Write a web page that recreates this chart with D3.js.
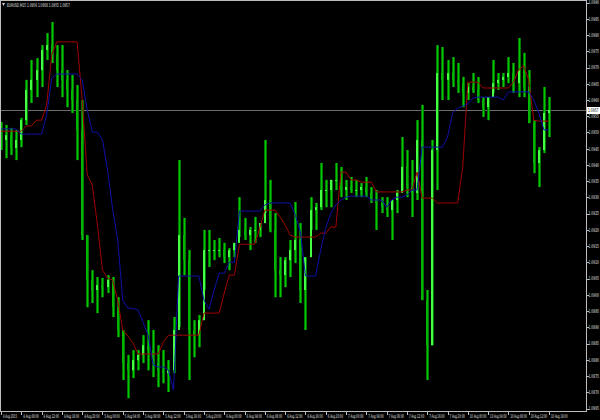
<!DOCTYPE html>
<html>
<head>
<meta charset="utf-8">
<script src="https://cdn.jsdelivr.net/npm/d3@7"></script>
<style>
body { margin: 0; background: #000; }
svg { display: block; }
</style>
</head>
<body>
<svg width="600" height="420"></svg>
<script>
// hourly bars, EURUSD, from 4 Aug 04:00
var highs = [1.09532,1.09523,1.09514,1.09508,1.09545,1.09662,1.09723,1.09729,1.09769,1.09806,
    1.09840,1.09769,1.09769,1.09692,1.09677,1.09646,1.09600,1.09184,1.09076,1.09055,
    1.09052,1.09061,1.09055,1.08993,1.08892,1.08815,1.08830,1.08830,1.08876,1.08922,
    1.08892,1.08845,1.08830,1.08799,1.08932,1.09415,1.09237,1.09138,1.08922,1.08938,
    1.09200,1.09200,1.09169,1.09175,1.09160,1.09144,1.09160,1.09301,1.09237,1.09209,
    1.09240,1.09221,1.09477,1.09354,1.09252,1.09116,1.09116,1.09169,1.09286,1.09221,
    1.09116,1.09301,1.09283,1.09406,1.09354,1.09354,1.09406,1.09394,1.09354,1.09363,
    1.09354,1.09344,1.09363,1.09332,1.09323,1.09301,1.09301,1.09292,1.09323,1.09486,
    1.09446,1.09415,1.09538,1.09585,1.09015,1.09477,1.09769,1.09763,1.09723,1.09732,
    1.09714,1.09671,1.09652,1.09683,1.09671,1.09609,1.09609,1.09723,1.09683,1.09683,
    1.09732,1.09714,1.09791,1.09745,1.09692,1.09538,1.09455,1.09640,1.09609];
var lows = [1.09446,1.09421,1.09431,1.09415,1.09455,1.09523,1.09591,1.09609,1.09640,1.09723,
    1.09714,1.09640,1.09609,1.09578,1.09560,1.09415,1.09169,1.08962,1.08975,1.08944,
    1.08993,1.09006,1.08932,1.08870,1.08738,1.08682,1.08744,1.08768,1.08790,1.08768,
    1.08747,1.08716,1.08728,1.08701,1.08759,1.08901,1.09061,1.08738,1.08808,1.08839,
    1.09015,1.09086,1.09107,1.09116,1.09098,1.09076,1.09116,1.09178,1.09169,1.09138,
    1.09160,1.09178,1.09252,1.09193,1.08993,1.08993,1.09024,1.09055,1.09098,1.08975,
    1.08892,1.09200,1.09200,1.09261,1.09270,1.09270,1.09323,1.09301,1.09292,1.09314,
    1.09301,1.09301,1.09301,1.09283,1.09200,1.09252,1.09240,1.09169,1.09252,1.09323,
    1.09301,1.09240,1.09292,1.08984,1.08738,1.08845,1.09323,1.09600,1.09600,1.09640,
    1.09622,1.09578,1.09600,1.09622,1.09591,1.09548,1.09538,1.09622,1.09631,1.09640,
    1.09652,1.09622,1.09609,1.09609,1.09529,1.09375,1.09332,1.09437,1.09486];
var closes = [1.09477,1.09492,1.09452,1.09477,1.09538,1.09631,1.09662,1.09692,1.09754,1.09769,
    1.09739,1.09692,1.09662,1.09631,1.09600,1.09508,1.09184,1.09046,1.09015,1.09030,
    1.09024,1.09046,1.08962,1.08892,1.08790,1.08768,1.08799,1.08815,1.08845,1.08830,
    1.08790,1.08768,1.08759,1.08768,1.08892,1.09184,1.09107,1.08892,1.08876,1.08922,
    1.09138,1.09138,1.09138,1.09138,1.09116,1.09138,1.09160,1.09200,1.09184,1.09200,
    1.09200,1.09221,1.09292,1.09200,1.09076,1.09061,1.09107,1.09138,1.09169,1.09015,
    1.09116,1.09261,1.09270,1.09323,1.09323,1.09354,1.09354,1.09323,1.09332,1.09323,
    1.09323,1.09332,1.09314,1.09292,1.09283,1.09270,1.09261,1.09292,1.09314,1.09394,
    1.09332,1.09314,1.09477,1.08984,1.08845,1.09446,1.09683,1.09662,1.09683,1.09662,
    1.09652,1.09622,1.09640,1.09631,1.09600,1.09578,1.09609,1.09652,1.09662,1.09671,
    1.09683,1.09652,1.09692,1.09640,1.09529,1.09406,1.09446,1.09560,1.09569];
var firstOpen = 1.09500;

// indicator lines (red and blue)
var redLine = [1.09504,1.09504,1.09504,1.09504,1.09504,1.09520,1.09520,1.09538,1.09538,1.09585,
    1.09739,1.09779,1.09779,1.09779,1.09779,1.09779,1.09600,1.09369,1.09338,1.09215,
    1.09076,1.09052,1.09046,1.08984,1.08892,1.08873,1.08852,1.08818,1.08818,1.08818,
    1.08818,1.08818,1.08855,1.08876,1.08876,1.08876,1.08876,1.08876,1.08876,1.08876,
    1.08944,1.08944,1.08944,1.08944,1.09006,1.09061,1.09061,1.09156,1.09156,1.09156,
    1.09156,1.09206,1.09261,1.09261,1.09261,1.09240,1.09215,1.09184,1.09178,1.09178,
    1.09178,1.09178,1.09178,1.09190,1.09190,1.09209,1.09209,1.09378,1.09378,1.09354,
    1.09354,1.09347,1.09347,1.09347,1.09317,1.09317,1.09317,1.09317,1.09317,1.09317,
    1.09323,1.09323,1.09378,1.09298,1.09298,1.09298,1.09283,1.09283,1.09283,1.09283,
    1.09283,1.09394,1.09655,1.09655,1.09655,1.09637,1.09637,1.09637,1.09637,1.09637,
    1.09637,1.09655,1.09692,1.09705,1.09662,1.09538,1.09535,1.09535,1.09535];
var blueLine = [1.09511,1.09511,1.09511,1.09511,1.09495,1.09495,1.09495,1.09495,1.09495,1.09554,
    1.09668,1.09680,1.09680,1.09680,1.09680,1.09680,1.09662,1.09569,1.09501,1.09501,
    1.09477,1.09384,1.09264,1.09169,1.08984,1.08959,1.08959,1.08953,1.08916,1.08876,
    1.08784,1.08778,1.08778,1.08768,1.08707,1.09058,1.09058,1.09058,1.09058,1.09058,
    1.08984,1.08956,1.09015,1.09067,1.09067,1.09101,1.09101,1.09258,1.09258,1.09258,
    1.09258,1.09258,1.09277,1.09283,1.09283,1.09283,1.09283,1.09283,1.09246,1.09194,
    1.09058,1.09058,1.09058,1.09138,1.09206,1.09252,1.09277,1.09292,1.09301,1.09304,
    1.09304,1.09304,1.09304,1.09292,1.09292,1.09292,1.09270,1.09292,1.09301,1.09301,
    1.09307,1.09323,1.09323,1.09455,1.09455,1.09455,1.09455,1.09455,1.09486,1.09560,
    1.09575,1.09581,1.09588,1.09606,1.09609,1.09609,1.09609,1.09609,1.09609,1.09600,
    1.09625,1.09625,1.09625,1.09625,1.09625,1.09600,1.09560,1.09508,1.09508];

// axis labels
var timeLabels = ["4 Aug 2015","4 Aug 08:00","4 Aug 12:00","4 Aug 16:00","4 Aug 20:00",
    "5 Aug 00:00","5 Aug 04:00","5 Aug 08:00","5 Aug 12:00","5 Aug 16:00","5 Aug 20:00",
    "6 Aug 00:00","6 Aug 04:00","6 Aug 08:00","6 Aug 12:00","6 Aug 16:00","6 Aug 20:00",
    "7 Aug 00:00","7 Aug 04:00","7 Aug 08:00","7 Aug 12:00","7 Aug 16:00","7 Aug 20:00",
    "10 Aug 00:00","10 Aug 04:00","10 Aug 08:00","10 Aug 12:00","10 Aug 16:00"];
var barsPerLabel = 4;
var priceTicks = ["1.0990","1.0985","1.0980","1.0975","1.0970","1.0965","1.0960","1.0955",
    "1.0950","1.0945","1.0940","1.0935","1.0930","1.0925","1.0920","1.0915","1.0910","1.0905",
    "1.0900","1.0895","1.0890","1.0885","1.0880","1.0875","1.0870","1.0865"];
var lastPrice = 1.0957;
var header = "EURUSD,M15  1.0956 1.0958 1.0955 1.0957";

var svg = d3.select("svg");
var plotW = 586, plotH = 411;
var font = "'DejaVu Sans', sans-serif";

svg.append("rect").attr("width", 600).attr("height", 420).attr("fill", "#000");

var x = d3.scaleLinear().domain([0, highs.length - 1]).range([1, 549]);
var y = d3.scaleLinear().domain([1.086425, 1.099079]).range([plotH, 0]);

svg.append("clipPath").attr("id", "plot")
    .append("rect").attr("x", 1).attr("y", 1).attr("width", plotW - 1).attr("height", plotH - 1);

var bars = highs.map(function (h, i) {
    return { i: i, high: h, low: lows[i], open: i ? closes[i - 1] : firstOpen, close: closes[i] };
});

var g = svg.append("g").attr("clip-path", "url(#plot)");

// price line
g.append("line")
    .attr("x1", 0).attr("x2", plotW)
    .attr("y1", Math.round(y(lastPrice)) + 0.5).attr("y2", Math.round(y(lastPrice)) + 0.5)
    .attr("stroke", "#6e6e6e").attr("stroke-width", 1);

function barColour(d) {
    return d.close >= d.open ? "#44ff44" : "#00b400";
}

// wicks (2px, dark green)
g.append("g").selectAll("rect")
    .data(bars)
    .enter().append("rect")
    .attr("x", d => Math.round(x(d.i)) - 1)
    .attr("width", 3)
    .attr("y", d => y(d.high))
    .attr("height", d => y(d.low) - y(d.high))
    .attr("fill", "#007a00");

g.append("g").selectAll("line")
    .data(bars)
    .enter().append("line")
    .attr("x1", d => Math.round(x(d.i)) + 0.5)
    .attr("x2", d => Math.round(x(d.i)) + 0.5)
    .attr("y1", d => y(d.high))
    .attr("y2", d => y(d.low))
    .attr("stroke", "#00c800")
    .attr("stroke-width", 1);

// bodies
g.append("g").selectAll("rect")
    .data(bars)
    .enter().append("rect")
    .attr("x", d => Math.round(x(d.i)) - 1)
    .attr("width", 2)
    .attr("y", d => y(Math.max(d.open, d.close)))
    .attr("height", d => Math.max(1, Math.abs(y(d.open) - y(d.close))))
    .attr("fill", d => barColour(d));

// indicator lines
var lineGen = function (arr) {
    return d3.line()
        .x(function (d, i) { return x(i); })
        .y(function (d) { return y(d); })(arr);
};
g.append("path").attr("d", lineGen(redLine))
    .attr("fill", "none").attr("stroke", "#a00000").attr("stroke-width", 1);
g.append("path").attr("d", lineGen(blueLine))
    .attr("fill", "none").attr("stroke", "#1010a8").attr("stroke-width", 1);

// frame
svg.append("rect")
    .attr("x", 0.5).attr("y", 0.5).attr("width", plotW).attr("height", plotH)
    .attr("fill", "none").attr("stroke", "#bdbdbd").attr("stroke-width", 1);

// tiny text squeezed to a given width
function smallText(parent, str, tx, ty, w, fill) {
    var t = parent.append("text")
        .attr("font-family", font).attr("font-size", 5)
        .attr("fill", fill)
        .text(str);
    var natural = t.node().getComputedTextLength() || w;
    t.attr("transform", "translate(" + tx + "," + ty + ") scale(" + (w / natural) + ",1)");
    return t;
}

// right price axis
var pt = svg.append("g");
pt.selectAll("line")
    .data(priceTicks)
    .enter().append("line")
    .attr("x1", plotW).attr("x2", plotW + 3)
    .attr("y1", d => Math.round(y(+d)) + 0.5).attr("y2", d => Math.round(y(+d)) + 0.5)
    .attr("stroke", "#bdbdbd");
priceTicks.forEach(function (d) {
    smallText(pt, d, plotW + 2.5, y(+d) + 1.8, 10.5, "#e0e0e0");
});

// last price label
var ly = Math.round(y(lastPrice));
svg.append("rect")
    .attr("x", plotW + 1).attr("y", ly - 3).attr("width", 13).attr("height", 7)
    .attr("fill", "#ffffff");
smallText(svg, lastPrice.toFixed(4), plotW + 2, ly + 2.3, 10.5, "#000");

// bottom time axis
var tt = svg.append("g");
tt.selectAll("line")
    .data(timeLabels)
    .enter().append("line")
    .attr("x1", (d, i) => Math.round(x(i * barsPerLabel)) + 0.5)
    .attr("x2", (d, i) => Math.round(x(i * barsPerLabel)) + 0.5)
    .attr("y1", plotH).attr("y2", plotH + 4)
    .attr("stroke", "#bdbdbd");
timeLabels.forEach(function (d, i) {
    smallText(tt, d, x(i * barsPerLabel) + 2, plotH + 6.5, Math.min(d.length * 1.4, 16.5), "#e0e0e0");
});

// header
svg.append("path")
    .attr("d", "M2,3 L5,3 L3.5,6 Z")
    .attr("fill", "#d0d0d0");
smallText(svg, header, 7, 7, 63, "#e0e0e0");
</script>
</body>
</html>
